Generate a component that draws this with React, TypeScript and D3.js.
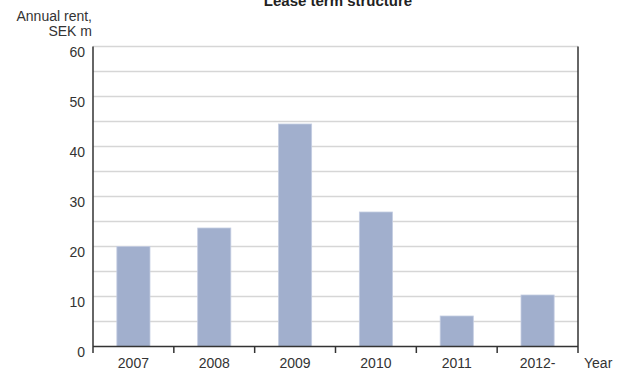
import React, { useEffect, useRef } from "react";
import * as d3 from "d3";

const years: string[] = ["2007", "2008", "2009", "2010", "2011", "2012-"];
const rent: number[] = [20, 23.7, 44.5, 26.9, 6.1, 10.3];
const yTicks: number[] = [0, 10, 20, 30, 40, 50, 60];
const gridValues: number[] = [5, 10, 15, 20, 25, 30, 35, 40, 45, 50, 55, 60];

const W = 620;
const H = 372;
const margin = { left: 93, right: 42, top: 46.5, bottom: 25.5 };
const FONT = "'Liberation Sans', Arial, sans-serif";

export default function App() {
  const ref = useRef<SVGSVGElement | null>(null);

  useEffect(() => {
    const svg = d3.select(ref.current);
    svg.selectAll("*").remove();

    const x0 = margin.left;
    const x1 = W - margin.right;
    const y0 = H - margin.bottom;
    const y1 = margin.top;

    const x = d3.scaleBand<string>().domain(years).range([x0, x1]).paddingInner(0.59).paddingOuter(0.295);
    const y = d3.scaleLinear().domain([0, 60]).range([y0, y1]);

    // horizontal grid
    svg.append("g")
      .selectAll("line")
      .data(gridValues)
      .join("line")
      .attr("x1", x0)
      .attr("x2", x1)
      .attr("y1", (d) => y(d))
      .attr("y2", (d) => y(d))
      .attr("stroke", "#d6d6d6")
      .attr("stroke-width", 1.5);

    // bars
    svg.append("g")
      .selectAll("rect")
      .data(rent)
      .join("rect")
      .attr("x", (_, i) => x(years[i]) as number)
      .attr("width", x.bandwidth())
      .attr("y", (d) => y(d))
      .attr("height", (d) => y0 - y(d))
      .attr("fill", "#a1afcd")
      .attr("stroke", "#c4cde2")
      .attr("stroke-width", 0.8);

    const axisColor = "#333333";
    const tickLen = 6.5;

    // frame: left, right, baseline
    svg.append("line").attr("x1", x0).attr("x2", x0).attr("y1", y1).attr("y2", y0 + tickLen)
      .attr("stroke", axisColor).attr("stroke-width", 1.5);
    svg.append("line").attr("x1", x1).attr("x2", x1).attr("y1", y1).attr("y2", y0 + tickLen)
      .attr("stroke", axisColor).attr("stroke-width", 1.5);
    svg.append("line").attr("x1", x0).attr("x2", x1).attr("y1", y0).attr("y2", y0)
      .attr("stroke", axisColor).attr("stroke-width", 1.5);

    // category separators below baseline
    const step = x.step();
    const bounds = d3.range(1, years.length).map((i) => x0 + i * step);
    svg.append("g")
      .selectAll("line")
      .data(bounds)
      .join("line")
      .attr("x1", (d) => d)
      .attr("x2", (d) => d)
      .attr("y1", y0)
      .attr("y2", y0 + tickLen)
      .attr("stroke", axisColor)
      .attr("stroke-width", 1.5);

    // y tick labels
    svg.append("g")
      .selectAll("text")
      .data(yTicks)
      .join("text")
      .attr("x", x0 - 8)
      .attr("y", (d) => y(d) + 10)
      .attr("text-anchor", "end")
      .attr("font-family", FONT)
      .attr("font-size", 14)
      .attr("fill", "#333")
      .text((d) => String(d));

    // x labels
    svg.append("g")
      .selectAll("text")
      .data(years)
      .join("text")
      .attr("x", (d) => (x(d) as number) + x.bandwidth() / 2)
      .attr("y", 368)
      .attr("text-anchor", "middle")
      .attr("font-family", FONT)
      .attr("font-size", 14)
      .attr("fill", "#333")
      .text((d) => d);

    svg.append("text")
      .attr("x", 584)
      .attr("y", 368)
      .attr("font-family", FONT)
      .attr("font-size", 14)
      .attr("fill", "#333")
      .text("Year");

    // y axis title
    const yt = svg.append("text")
      .attr("text-anchor", "end")
      .attr("font-family", FONT)
      .attr("font-size", 14)
      .attr("fill", "#333");
    yt.append("tspan").attr("x", 92).attr("y", 21).text("Annual rent,");
    yt.append("tspan").attr("x", 92).attr("y", 36).text("SEK m");

    // chart title
    svg.append("text")
      .attr("x", 338)
      .attr("y", 6)
      .attr("text-anchor", "middle")
      .attr("font-family", FONT)
      .attr("font-weight", "bold")
      .attr("font-size", 15)
      .attr("fill", "#222")
      .text("Lease term structure");
  }, []);

  return (
    <svg
      ref={ref}
      width={W}
      height={H}
      style={{ position: "absolute", left: 0, top: 0, background: "#fff" }}
    />
  );
}
